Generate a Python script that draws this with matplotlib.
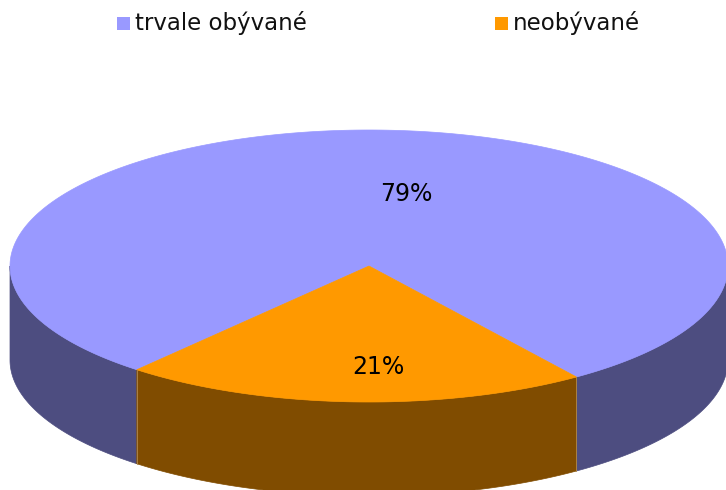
import numpy as np
import matplotlib
matplotlib.use("Agg")
import matplotlib.pyplot as plt
from matplotlib.patches import Polygon, Rectangle

categories = ["trvale obývané", "neobývané"]
values = [79, 21]
top_colors = ["#9999FF", "#FF9900"]
side_colors = ["#4D4D80", "#804C00"]

W, H = 726, 490
fig = plt.figure(figsize=(W / 100, H / 100), dpi=100)
ax = fig.add_axes([0, 0, 1, 1])
ax.set_xlim(0, W)
ax.set_ylim(H, 0)
ax.axis("off")

cx, cy, a, b, depth = 369, 266, 359, 136, 94

total = sum(values)
# the small slice is centred near the bottom of the pie
small_span = 360.0 * values[1] / total
start_small = 267.5 - small_span / 2
spans = [(start_small + small_span, start_small + 360.0), (start_small, start_small + small_span)]


def pt(theta_deg, dy=0.0):
    t = np.radians(theta_deg)
    return cx + a * np.cos(t), cy - b * np.sin(t) + dy


# side walls (front half only)
for (t0, t1), col in zip(spans, side_colors):
    for lo, hi in [(180, 360), (540, 720)]:
        s, e = max(t0, lo), min(t1, hi)
        if e <= s:
            continue
        th = np.linspace(s, e, 200)
        topx, topy = zip(*[pt(t) for t in th])
        botx, boty = zip(*[pt(t, depth) for t in th[::-1]])
        poly = np.column_stack([list(topx) + list(botx), list(topy) + list(boty)])
        ax.add_patch(Polygon(poly, closed=True, facecolor=col, edgecolor=col, lw=0.5))

# edge lines between slices on the side
for t in [spans[1][0], spans[1][1]]:
    x0, y0 = pt(t)
    x1, y1 = pt(t, depth)
    ax.plot([x0, x1], [y0, y1], color="#B08A50", lw=0.6)

# top faces
for (t0, t1), col in zip(spans, top_colors):
    th = np.linspace(t0, t1, 400)
    xs, ys = zip(*[pt(t) for t in th])
    poly = np.column_stack([[cx] + list(xs), [cy] + list(ys)])
    ax.add_patch(Polygon(poly, closed=True, facecolor=col, edgecolor=col, lw=0.5))

# percentage labels
labels = [f"{v}%" for v in values]
ax.text(406, 194, labels[0], ha="center", va="center", fontsize=17, color="black")
ax.text(378, 367, labels[1], ha="center", va="center", fontsize=17, color="black")

# legend
leg_x = [117, 495]
for x, lab, col in zip(leg_x, categories, top_colors):
    ax.add_patch(Rectangle((x, 17), 13, 13, facecolor=col, edgecolor="none"))
    ax.text(x + 18, 23, lab, ha="left", va="center", fontsize=16.5, color="#111111")

fig.savefig("out.png", dpi=100)
